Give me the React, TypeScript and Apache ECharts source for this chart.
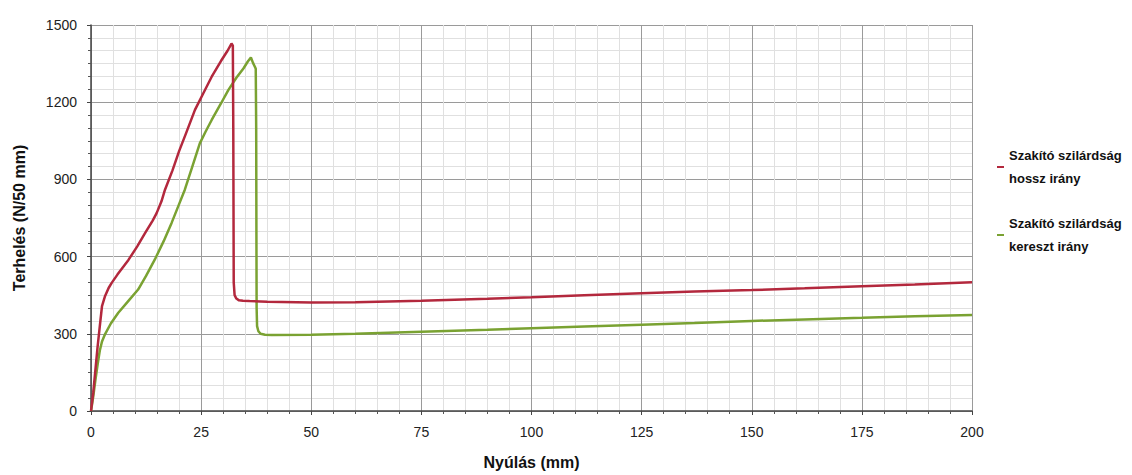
import React, { useEffect, useRef } from "react";
import * as echarts from "echarts";

const xTicks = [0, 25, 50, 75, 100, 125, 150, 175, 200];
const yTicks = [0, 300, 600, 900, 1200, 1500];

const seriesNames = ["Szakító szilárdság\nhossz irány", "Szakító szilárdság\nkereszt irány"];

const redX = [0, 0.5, 1, 1.5, 2, 2.5, 3.2, 4, 4.7, 6, 8.5, 10.5, 12.3, 14, 14.9, 16, 16.8, 18.5, 20, 21.5, 23.6, 25.5, 27.4, 29.5, 31, 31.9, 32.2, 32.3, 32.35, 32.4, 32.6, 33, 33.6, 34.5, 36, 40, 50, 60, 75, 90, 100, 112, 125, 137, 150, 162, 175, 187, 200];
const redY = [0, 70, 160, 250, 330, 408, 447, 478, 498, 530, 587, 640, 692, 740, 769, 815, 860, 935, 1010, 1076, 1170, 1235, 1299, 1360, 1400, 1428, 1420, 1100, 800, 500, 450, 437, 430, 428, 427, 425, 422, 423, 428, 436, 442, 450, 458, 464, 470, 477, 485, 492, 500];

const greenX = [0, 0.5, 1, 1.5, 2, 2.5, 3.2, 4.5, 6.2, 8.5, 10.7, 12.5, 14.5, 16.5, 18.3, 20, 21.3, 23, 24.7, 26, 27.4, 29.5, 31.2, 33, 34.6, 35.6, 36.3, 36.8, 37.2, 37.4, 37.5, 37.55, 37.6, 37.7, 38, 38.5, 39.5, 41, 50, 60, 75, 90, 100, 112, 125, 137, 150, 162, 175, 187, 200];
const greenY = [0, 55, 120, 180, 235, 270, 299, 340, 382, 428, 472, 525, 589, 660, 731, 804, 860, 950, 1040, 1085, 1131, 1195, 1248, 1295, 1331, 1358, 1374, 1352, 1338, 1330, 1100, 700, 400, 330, 310, 300, 296, 295, 296, 300, 308, 316, 322, 328, 335, 342, 350, 356, 362, 368, 373];

const colors = ["#b3283d", "#7aa232"];

export default function App() {
  const ref = useRef<HTMLDivElement>(null);
  useEffect(() => {
    if (!ref.current) return;
    const chart = echarts.init(ref.current, null, { renderer: "svg" });
    const pairs = (xs: number[], ys: number[]) => xs.map((x, i) => [x, ys[i]]);
    const font = "'Liberation Sans', Arial, sans-serif";
    chart.setOption({
      animation: false,
      backgroundColor: "#ffffff",
      grid: { left: 91, right: 160, top: 25, bottom: 63, containLabel: false },
      legend: {
        orient: "vertical",
        left: 997,
        top: 144,
        padding: 0,
        icon: "rect",
        itemWidth: 7,
        itemHeight: 2,
        itemGap: 22,
        data: seriesNames,
        textStyle: { fontFamily: font, fontSize: 13, fontWeight: "bold", color: "#111", lineHeight: 23 },
      },
      xAxis: {
        type: "value",
        min: xTicks[0],
        max: xTicks[xTicks.length - 1],
        interval: xTicks[1] - xTicks[0],
        name: "Nyúlás (mm)",
        nameLocation: "middle",
        nameGap: 43,
        nameTextStyle: { fontFamily: font, fontSize: 16, fontWeight: "bold", color: "#111" },
        axisLine: { show: true, lineStyle: { color: "#444", width: 1.5 } },
        axisTick: { show: true, length: 4, lineStyle: { color: "#444" } },
        minorTick: { show: true, splitNumber: 5, length: 3, lineStyle: { color: "#555" } },
        splitLine: { show: true, lineStyle: { color: "#9a9a9a", width: 1 } },
        minorSplitLine: { show: true, lineStyle: { color: "#e0e0e0", width: 1 } },
        axisLabel: { margin: 14, fontFamily: font, fontSize: 14, color: "#222", formatter: (v: number) => String(v) },
      },
      yAxis: {
        type: "value",
        min: yTicks[0],
        max: yTicks[yTicks.length - 1],
        interval: yTicks[1] - yTicks[0],
        name: "Terhelés (N/50 mm)",
        nameLocation: "middle",
        nameGap: 64,
        nameTextStyle: { fontFamily: font, fontSize: 16, fontWeight: "bold", color: "#111" },
        axisLine: { show: true, lineStyle: { color: "#444", width: 1.5 } },
        axisTick: { show: true, length: 4, lineStyle: { color: "#444" } },
        minorTick: { show: true, splitNumber: 6, length: 3, lineStyle: { color: "#555" } },
        splitLine: { show: true, lineStyle: { color: "#9a9a9a", width: 1 } },
        minorSplitLine: { show: true, lineStyle: { color: "#e0e0e0", width: 1 } },
        axisLabel: { margin: 14, fontFamily: font, fontSize: 14, color: "#222", formatter: (v: number) => String(v) },
      },
      series: [
        {
          name: seriesNames[0],
          type: "line",
          showSymbol: false,
          data: pairs(redX, redY),
          lineStyle: { color: colors[0], width: 2.5 },
          itemStyle: { color: colors[0] },
          z: 3,
        },
        {
          name: seriesNames[1],
          type: "line",
          showSymbol: false,
          data: pairs(greenX, greenY),
          lineStyle: { color: colors[1], width: 2.5 },
          itemStyle: { color: colors[1] },
          z: 2,
        },
      ],
    });
    return () => chart.dispose();
  }, []);
  return <div ref={ref} style={{ position: "fixed", left: 0, top: 0, width: 1132, height: 475 }} />;
}
